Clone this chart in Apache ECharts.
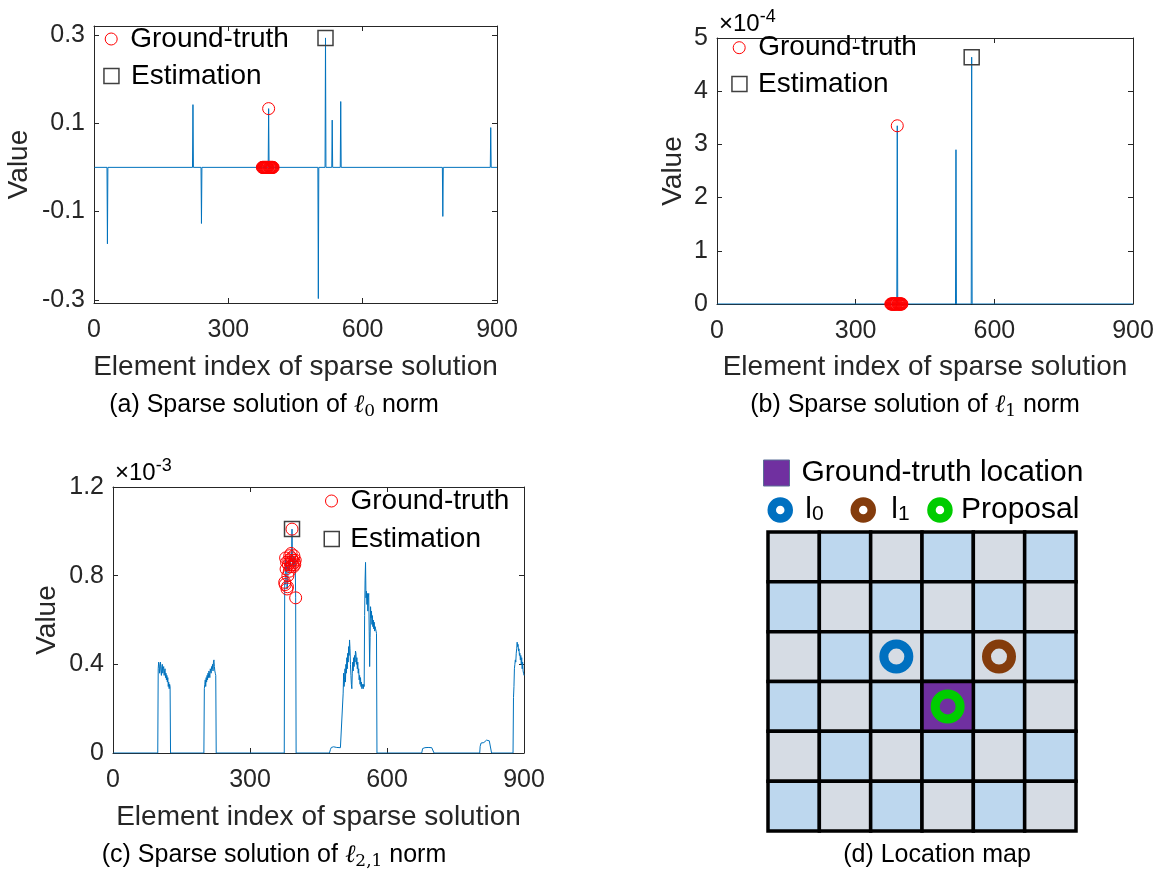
<!DOCTYPE html>
<html><head><meta charset="utf-8">
<script src="https://cdn.jsdelivr.net/npm/echarts@6/dist/echarts.min.js"></script>
<style>html,body{margin:0;padding:0;background:#fff}#c{width:1174px;height:873px}</style>
</head><body><div id="c"></div>
<script>
// ---------------- data ----------------
const xTicks = [0, 300, 600, 900];
const aYTicks = [-0.3, -0.1, 0.1, 0.3];
const bYTicks = [0, 1, 2, 3, 4, 5];          // x 1e-4
const cYTicks = [0, 0.4, 0.8, 1.2];          // x 1e-3

// ground-truth element indices
const gtIndices = [376,377,378,379,380,381,382,383,384,385,386,387,388,389,390,391,392,393,394,395,396,397,398,399,400];

// (a) l0 solution [index, value]
const l0Line = [[1,0],[29,0],[30,-0.173],[31,0],[220,0],[221,0.142],[222,0],[239,0],[240,-0.127],[241,0],
  [389,0],[390,0.133],[391,0],[500,0],[501,-0.297],[502,0],[516,0],[517,0.293],[518,0],[531,0],[532,0.107],[533,0],
  [550,0],[551,0.149],[552,0],[778,0],[779,-0.111],[780,0],[885,0],[886,0.090],[887,0],[900,0]];
const l0GroundTruth = [0,0,0,0,0,0,0,0,0,0,0,0,0,0,0.133,0,0,0,0,0,0,0,0,0,0];
const l0Estimation = [[517, 0.293]];

// (b) l1 solution (units of 1e-4)
const l1Line = [[1,0],[389,0],[390,3.35],[391,0],[516,0],[517,2.90],[518,0],[550,0],[551,4.64],[552,0],[900,0]];
const l1GroundTruth = [0,0,0,0,0,0,0,0,0,0,0,0,0,0,3.35,0,0,0,0,0,0,0,0,0,0];
const l1Estimation = [[551, 4.64]];

// (c) l2,1 solution (units of 1e-3)
const l21Line = [[1,0],[98,0],
  [99,0.38],[100,0.41],[101,0.40],[102,0.36],[103,0.39],[104,0.41],[105,0.37],[106,0.35],[107,0.39],[108,0.40],[109,0.36],[110,0.38],
  [111,0.39],[112,0.35],[113,0.37],[114,0.38],[115,0.34],[116,0.36],[117,0.33],[118,0.35],[119,0.32],[120,0.34],[121,0.30],[122,0.32],
  [123,0.29],[124,0.31],[125,0.30],[126,0],[199,0],
  [200,0.29],[201,0.31],[202,0.33],[203,0.30],[204,0.34],[205,0.32],[206,0.35],[207,0.33],[208,0.36],[209,0.34],[210,0.37],[211,0.36],
  [212,0.34],[213,0.38],[214,0.37],[215,0.36],[216,0.39],[217,0.38],[218,0.40],[219,0.37],[220,0.41],[221,0.42],[222,0.39],[223,0.37],
  [224,0.36],[225,0.35],[226,0],[375,0],
  [376,0.77],[377,0.76],[378,0.88],[379,0.83],[380,0.86],[381,0.74],[382,0.75],[383,0.80],[384,0.85],[385,0.87],[386,0.82],[387,0.89],
  [388,0.84],[389,0.86],[390,0.90],[391,0.88],[392,1.01],[393,0.85],[394,0.87],[395,0.84],[396,0.89],[397,0.86],[398,0.85],[399,0.87],
  [400,0.70],[401,0],[474,0],
  [476,0.015],[478,0.025],[480,0.03],[483,0.028],[486,0.026],[490,0.025],[494,0.026],[498,0.024],[502,0.026],
  [504,0.27],[505,0.36],[506,0.30],[507,0.33],[508,0.38],[509,0.32],[510,0.40],[511,0.36],[512,0.43],[513,0.38],[514,0.45],[515,0.41],
  [516,0.48],[517,0.44],[518,0.51],[519,0.47],[520,0.40],[521,0.35],[522,0.31],[523,0.29],[524,0.36],[525,0.41],[526,0.37],[527,0.43],
  [528,0.39],[529,0.44],[530,0.41],[531,0.46],[532,0.45],[533,0.40],[534,0.43],[535,0.38],[536,0.41],[537,0.36],[538,0.38],[539,0.33],
  [540,0.35],[541,0.31],[542,0.34],[543,0.30],[544,0.32],[545,0.29],[546,0.31],[547,0.30],[548,0.29],[549,0.31],[550,0.30],[551,0.62],
  [552,0.78],[553,0.86],[554,0.70],[555,0.73],[556,0.67],[557,0.72],[558,0.64],[559,0.70],[560,0.72],[561,0.55],[562,0.39],[563,0.52],
  [564,0.66],[565,0.61],[566,0.64],[567,0.58],[568,0.62],[569,0.57],[570,0.60],[571,0.56],[572,0.59],[573,0.55],[574,0.57],[575,0.56],
  [576,0.55],[577,0.54],[578,0],[676,0],
  [678,0.02],[680,0.027],[683,0.024],[686,0.026],[690,0.025],[694,0.027],[698,0.024],[701,0.026],[702,0.025],[703,0],[803,0],
  [804,0.03],[806,0.045],[808,0.04],[810,0.05],[812,0.047],[814,0.055],[816,0.05],[818,0.058],[820,0.052],[822,0.06],[824,0.055],
  [826,0.057],[828,0.054],[829,0],[876,0],
  [877,0.25],[878,0.30],[879,0.38],[880,0.40],[881,0.42],[882,0.41],[883,0.45],[884,0.47],[885,0.50],[886,0.48],[887,0.49],[888,0.46],
  [889,0.47],[890,0.44],[891,0.45],[892,0.42],[893,0.44],[894,0.40],[895,0.43],[896,0.38],[897,0.41],[898,0.37],[899,0.36],[900,0.35]];
const l21GroundTruth = [0.77,0.76,0.88,0.83,0.86,0.74,0.75,0.80,0.85,0.87,0.82,0.89,0.84,0.86,0.90,0.88,1.01,0.85,0.87,0.84,0.89,0.86,0.85,0.87,0.70];
const l21Estimation = [[392, 1.01]];

// (d) location map: 0 = gray cell, 1 = blue cell (rows top to bottom)
const mapRows = [
  [0,1,0,1,0,1],
  [1,0,1,0,1,0],
  [0,1,0,1,0,1],
  [1,0,1,0,1,0],
  [0,1,0,1,0,1],
  [1,0,1,0,1,0]];
const gtCell = [[3,3]];
const l0Pos = [[2,2]];
const l1Pos = [[4,2]];
const proposalPos = [[3,3]];

// ---------------- styling ----------------
const SANS = '"Liberation Sans", Arial, sans-serif';
const SERIF = '"DejaVu Serif", "Liberation Serif", serif';
const AX = '#262626';
const BLUE = '#0072BD';
const cellColors = ['#D6DCE4', '#BDD7EE', '#7030A0'];

function xAx(gi, pos, labels, nameGap) {
  return {type:'value', gridIndex:gi, position:pos, min:0, max:900, interval:300,
    axisLine:{show:true, onZero:false, lineStyle:{color:AX, width:1}},
    axisTick:{show:true, inside:true, length:5, lineStyle:{color:AX}},
    axisLabel:{show:labels, margin:15, fontSize:25, color:AX, fontFamily:SANS},
    splitLine:{show:false},
    name: labels ? 'Element index of sparse solution' : '', nameLocation:'middle', nameGap:nameGap,
    nameTextStyle:{fontSize:28, color:AX, fontFamily:SANS}};
}
function yAx(gi, pos, labels, min, max, ticks, fmt, nameGap) {
  return {type:'value', gridIndex:gi, position:pos, min:min, max:max,
    axisLine:{show:true, onZero:false, lineStyle:{color:AX, width:1}},
    axisTick:{show:true, inside:true, length:5, customValues:ticks, lineStyle:{color:AX}},
    axisLabel:{show:labels, customValues:ticks, margin:9, fontSize:25, color:AX, fontFamily:SANS, formatter:fmt},
    splitLine:{show:false},
    name: labels ? 'Value' : '', nameLocation:'middle', nameGap:nameGap, nameRotate:90,
    nameTextStyle:{fontSize:28, color:AX, fontFamily:SANS}};
}
const gtStyle = {color:'rgba(255,0,0,0)', borderColor:'#FF0000', borderWidth:1, opacity:1};
const estStyle = {color:'rgba(0,0,0,0)', borderColor:'#404040', borderWidth:1.5, opacity:1};

function panelSeries(ax, line, gtVals, est) {
  return [
    {type:'line', name:'solution', xAxisIndex:ax, yAxisIndex:ax, data:line, showSymbol:false, symbol:'none',
      lineStyle:{color:BLUE, width:1}, z:2},
    {type:'scatter', name:'Ground-truth', xAxisIndex:ax, yAxisIndex:ax, data:gtIndices.map((x,i)=>[x, gtVals[i]]),
      symbol:'circle', symbolSize:12, itemStyle:gtStyle, z:3},
    {type:'scatter', name:'Estimation', xAxisIndex:ax, yAxisIndex:ax, data:est,
      symbol:'rect', symbolSize:15, itemStyle:estStyle, z:4}
  ];
}

function leg(name, icon, cx, cy, size, itemStyle, pad, fontSize, extra) {
  const o = {show:true, data:[{name:name, icon:icon, itemStyle:itemStyle}], left:cx - size/2, top:cy - fontSize/2,
    padding:0, itemWidth:size, itemHeight:size, selectedMode:false,
    textStyle:{fontSize:fontSize, color:'#000', fontFamily:SANS, padding:[0,0,0,pad]}};
  return Object.assign(o, extra || {});
}
const ringLegRich = {
  a:{fontSize:30, fontFamily:SANS, color:'#000', lineHeight:30, verticalAlign:'bottom'},
  s:{fontSize:21, fontFamily:SANS, color:'#000', lineHeight:21, verticalAlign:'bottom'}};

function cellRender(params, api) {
  const c = api.value(0), r = api.value(1), t = api.value(2);
  const p0 = api.coord([c - 0.5, r - 0.5]);
  const p1 = api.coord([c + 0.5, r + 0.5]);
  return {type:'rect',
    shape:{x:Math.min(p0[0],p1[0]), y:Math.min(p0[1],p1[1]), width:Math.abs(p1[0]-p0[0]), height:Math.abs(p1[1]-p0[1])},
    style:{fill:cellColors[t], stroke:'#000', lineWidth:3.5}};
}
const cellData = [];
mapRows.forEach((row, r) => row.forEach((t, c) => cellData.push([c, r, t])));

const capRich = {
  t:{fontSize:25, fontFamily:SANS, color:'#000', lineHeight:30},
  m:{fontSize:25, fontFamily:SERIF, fontStyle:'italic', color:'#000', lineHeight:30},
  s:{fontSize:17, fontFamily:SERIF, color:'#000', lineHeight:19, verticalAlign:'bottom'}};
const expRich = {
  b:{fontSize:24, fontFamily:SANS, color:AX, lineHeight:32},
  p:{fontSize:18, fontFamily:SANS, color:AX, lineHeight:12, verticalAlign:'top'}};
function txt(x, y, text, rich, align) {
  return {type:'text', x:x, y:y, silent:true,
    style:{text:text, rich:rich, align:align||'center', textAlign:align||'center', verticalAlign:'middle', textVerticalAlign:'middle'}};
}
const ringStyle = c => ({color:'rgba(0,0,0,0)', borderColor:c, borderWidth:9, opacity:1});

const option = {
  animation:false,
  backgroundColor:'#fff',
  grid:[
    {left:94, top:26, width:403, height:277, outerBoundsMode:'none'},
    {left:717, top:38, width:416, height:266, outerBoundsMode:'none'},
    {left:113, top:487, width:411, height:266, outerBoundsMode:'none'},
    {left:768, top:532, width:308, height:299, outerBoundsMode:'none'}
  ],
  xAxis:[
    xAx(0,'bottom',true,50), xAx(0,'top',false,0),
    xAx(1,'bottom',true,49), xAx(1,'top',false,0),
    xAx(2,'bottom',true,50), xAx(2,'top',false,0),
    {type:'value', gridIndex:3, min:-0.5, max:5.5, show:false}
  ],
  yAxis:[
    yAx(0,'left',true,-0.307,0.32,aYTicks,v=>v.toFixed(1),61), yAx(0,'right',false,-0.307,0.32,aYTicks,null,0),
    yAx(1,'left',true,0,5,bYTicks,v=>String(v),30), yAx(1,'right',false,0,5,bYTicks,null,0),
    yAx(2,'left',true,0,1.2,cYTicks,v=>(v===0?'0':v.toFixed(1)),52), yAx(2,'right',false,0,1.2,cYTicks,null,0),
    {type:'value', gridIndex:3, min:-0.5, max:5.5, inverse:true, show:false}
  ],
  legend:[
    leg('Ground-truth','circle',110.7,39,12,gtStyle,8,28),
    leg('Estimation','rect',110.7,76,15,estStyle,7,28),
    leg('Ground-truth','circle',738.7,47.7,12,gtStyle,8,28),
    leg('Estimation','rect',738.7,84,15,estStyle,6,28),
    leg('Ground-truth','circle',331,501,12,gtStyle,8,28),
    leg('Estimation','rect',331,539,15,estStyle,6,28),
    leg('Ground-truth location','rect',776,473,26,{color:'#7030A0', borderColor:'#5A6E96', borderWidth:1, opacity:1},7,30),
    leg('l0','circle',776,510,17,{color:'#fff', borderColor:'#0070C0', borderWidth:8.5, opacity:1},11.5,30,
        {formatter:()=>'{a|l}{s|0}', textStyle:{rich:ringLegRich, padding:[0,0,0,11.5]}}),
    leg('l1','circle',859,510,17,{color:'#fff', borderColor:'#843C0C', borderWidth:8.5, opacity:1},14.5,30,
        {formatter:()=>'{a|l}{s|1}', textStyle:{rich:ringLegRich, padding:[0,0,0,14.5]}}),
    leg('Proposal','circle',935.7,510,17,{color:'#fff', borderColor:'#00CC00', borderWidth:8.5, opacity:1},7.5,30)
  ],
  series:[
    ...panelSeries(0, l0Line, l0GroundTruth, l0Estimation),
    ...panelSeries(2, l1Line, l1GroundTruth, l1Estimation),
    ...panelSeries(4, l21Line, l21GroundTruth, l21Estimation),
    {type:'custom', name:'cells', xAxisIndex:6, yAxisIndex:6, data:cellData, renderItem:cellRender, z:2},
    {type:'custom', name:'Ground-truth location', xAxisIndex:6, yAxisIndex:6, data:gtCell.map(p=>[p[0],p[1],2]),
      renderItem:cellRender, itemStyle:{color:'#7030A0'}, z:3},
    {type:'scatter', name:'l0', xAxisIndex:6, yAxisIndex:6, data:l0Pos, symbol:'circle', symbolSize:25,
      itemStyle:ringStyle('#0070C0'), z:5},
    {type:'scatter', name:'l1', xAxisIndex:6, yAxisIndex:6, data:l1Pos, symbol:'circle', symbolSize:25,
      itemStyle:ringStyle('#843C0C'), z:5},
    {type:'scatter', name:'Proposal', xAxisIndex:6, yAxisIndex:6, data:proposalPos, symbol:'circle', symbolSize:25,
      itemStyle:ringStyle('#00CC00'), z:5}
  ],
  graphic:[
    txt(274,405,'{t|(a) Sparse solution of }{m|ℓ}{s|0}{t| norm}',capRich),
    txt(915,405,'{t|(b) Sparse solution of }{m|ℓ}{s|1}{t| norm}',capRich),
    txt(274,855,'{t|(c) Sparse solution of }{m|ℓ}{s|2,1}{t| norm}',capRich),
    txt(937,855,'{t|(d) Location map}',capRich),
    txt(719,24,'{b|×10}{p|-4}',expRich,'left'),
    txt(115,473,'{b|×10}{p|-3}',expRich,'left')
  ]
};
const chart = echarts.init(document.getElementById('c'), null, {renderer:'canvas'});
chart.setOption(option);
</script></body></html>
